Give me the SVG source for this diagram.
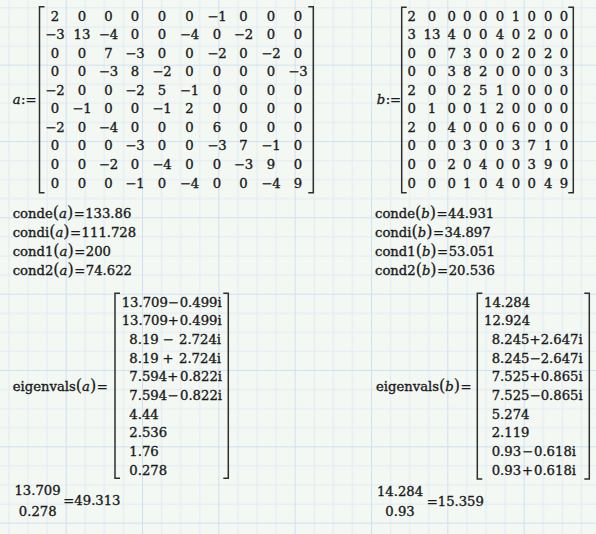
<svg xmlns="http://www.w3.org/2000/svg" width="596" height="534" viewBox="0 0 596 534">
<defs>
<pattern id="grid" patternUnits="userSpaceOnUse" x="65.67" y="64.64" width="76.33" height="76.33">
<rect x="0" y="0" width="76.33" height="76.33" fill="#f4f8f3"/>
<rect x="19.08" y="0" width="1" height="76.33" fill="#e1ecf6"/>
<rect x="38.17" y="0" width="1" height="76.33" fill="#e1ecf6"/>
<rect x="57.25" y="0" width="1" height="76.33" fill="#e1ecf6"/>
<rect x="0" y="19.08" width="76.33" height="1" fill="#e1ecf6"/>
<rect x="0" y="38.17" width="76.33" height="1" fill="#e1ecf6"/>
<rect x="0" y="57.25" width="76.33" height="1" fill="#e1ecf6"/>
<rect x="0" y="0" width="1" height="76.33" fill="#cfe1f3"/>
<rect x="0" y="0" width="76.33" height="1" fill="#cfe1f3"/>
</pattern>
</defs>
<style>
text { font-family: "DejaVu Serif", "Liberation Serif", serif; font-size: 13.2px; fill: #1a1a1a; stroke: #1a1a1a; stroke-width: 0.35px; }
.mid { text-anchor: middle; }
.end { text-anchor: end; }
.v { font-style: italic; }
.p { font-size: 16px; stroke-width: 0.2px; }
.br { fill: none; stroke: #2e2e2e; stroke-width: 1.5; }
</style>
<rect x="0" y="0" width="596" height="534" fill="url(#grid)"/>

<g id="matrix-a">
<text x="12.7" y="104"><tspan class="v">a</tspan><tspan dx="0.5">:=</tspan></text>
<path class="br" d="M44.5,6.7 H39.5 V192.7 H44.5"/>
<path class="br" d="M308.3,6.7 H313.3 V192.7 H308.3"/>
<text class="mid" y="20.5"><tspan x="55">2</tspan><tspan x="82">0</tspan><tspan x="108.5">0</tspan><tspan x="135">0</tspan><tspan x="162">0</tspan><tspan x="189.5">0</tspan><tspan x="217">−1</tspan><tspan x="243.5">0</tspan><tspan x="271">0</tspan><tspan x="298">0</tspan></text>
<text class="mid" y="39.06"><tspan x="55">−3</tspan><tspan x="82">13</tspan><tspan x="108.5">−4</tspan><tspan x="135">0</tspan><tspan x="162">0</tspan><tspan x="189.5">−4</tspan><tspan x="217">0</tspan><tspan x="243.5">−2</tspan><tspan x="271">0</tspan><tspan x="298">0</tspan></text>
<text class="mid" y="57.62"><tspan x="55">0</tspan><tspan x="82">0</tspan><tspan x="108.5">7</tspan><tspan x="135">−3</tspan><tspan x="162">0</tspan><tspan x="189.5">0</tspan><tspan x="217">−2</tspan><tspan x="243.5">0</tspan><tspan x="271">−2</tspan><tspan x="298">0</tspan></text>
<text class="mid" y="76.18"><tspan x="55">0</tspan><tspan x="82">0</tspan><tspan x="108.5">−3</tspan><tspan x="135">8</tspan><tspan x="162">−2</tspan><tspan x="189.5">0</tspan><tspan x="217">0</tspan><tspan x="243.5">0</tspan><tspan x="271">0</tspan><tspan x="298">−3</tspan></text>
<text class="mid" y="94.74"><tspan x="55">−2</tspan><tspan x="82">0</tspan><tspan x="108.5">0</tspan><tspan x="135">−2</tspan><tspan x="162">5</tspan><tspan x="189.5">−1</tspan><tspan x="217">0</tspan><tspan x="243.5">0</tspan><tspan x="271">0</tspan><tspan x="298">0</tspan></text>
<text class="mid" y="113.3"><tspan x="55">0</tspan><tspan x="82">−1</tspan><tspan x="108.5">0</tspan><tspan x="135">0</tspan><tspan x="162">−1</tspan><tspan x="189.5">2</tspan><tspan x="217">0</tspan><tspan x="243.5">0</tspan><tspan x="271">0</tspan><tspan x="298">0</tspan></text>
<text class="mid" y="131.86"><tspan x="55">−2</tspan><tspan x="82">0</tspan><tspan x="108.5">−4</tspan><tspan x="135">0</tspan><tspan x="162">0</tspan><tspan x="189.5">0</tspan><tspan x="217">6</tspan><tspan x="243.5">0</tspan><tspan x="271">0</tspan><tspan x="298">0</tspan></text>
<text class="mid" y="150.42"><tspan x="55">0</tspan><tspan x="82">0</tspan><tspan x="108.5">0</tspan><tspan x="135">−3</tspan><tspan x="162">0</tspan><tspan x="189.5">0</tspan><tspan x="217">−3</tspan><tspan x="243.5">7</tspan><tspan x="271">−1</tspan><tspan x="298">0</tspan></text>
<text class="mid" y="168.98"><tspan x="55">0</tspan><tspan x="82">0</tspan><tspan x="108.5">−2</tspan><tspan x="135">0</tspan><tspan x="162">−4</tspan><tspan x="189.5">0</tspan><tspan x="217">0</tspan><tspan x="243.5">−3</tspan><tspan x="271">9</tspan><tspan x="298">0</tspan></text>
<text class="mid" y="187.54"><tspan x="55">0</tspan><tspan x="82">0</tspan><tspan x="108.5">0</tspan><tspan x="135">−1</tspan><tspan x="162">0</tspan><tspan x="189.5">−4</tspan><tspan x="217">0</tspan><tspan x="243.5">0</tspan><tspan x="271">−4</tspan><tspan x="298">9</tspan></text>
</g>

<g id="matrix-b">
<text x="376.7" y="104"><tspan class="v">b</tspan><tspan dx="0.5">:=</tspan></text>
<path class="br" d="M406.7,7.3 H401.7 V192.7 H406.7"/>
<path class="br" d="M568.3,7.3 H573.3 V192.7 H568.3"/>
<text class="mid" y="20.5"><tspan x="411.7">2</tspan><tspan x="432">0</tspan><tspan x="451.7">0</tspan><tspan x="467.3">0</tspan><tspan x="483.3">0</tspan><tspan x="500">0</tspan><tspan x="516">1</tspan><tspan x="531.7">0</tspan><tspan x="548.3">0</tspan><tspan x="564">0</tspan></text>
<text class="mid" y="39.06"><tspan x="411.7">3</tspan><tspan x="432">13</tspan><tspan x="451.7">4</tspan><tspan x="467.3">0</tspan><tspan x="483.3">0</tspan><tspan x="500">4</tspan><tspan x="516">0</tspan><tspan x="531.7">2</tspan><tspan x="548.3">0</tspan><tspan x="564">0</tspan></text>
<text class="mid" y="57.62"><tspan x="411.7">0</tspan><tspan x="432">0</tspan><tspan x="451.7">7</tspan><tspan x="467.3">3</tspan><tspan x="483.3">0</tspan><tspan x="500">0</tspan><tspan x="516">2</tspan><tspan x="531.7">0</tspan><tspan x="548.3">2</tspan><tspan x="564">0</tspan></text>
<text class="mid" y="76.18"><tspan x="411.7">0</tspan><tspan x="432">0</tspan><tspan x="451.7">3</tspan><tspan x="467.3">8</tspan><tspan x="483.3">2</tspan><tspan x="500">0</tspan><tspan x="516">0</tspan><tspan x="531.7">0</tspan><tspan x="548.3">0</tspan><tspan x="564">3</tspan></text>
<text class="mid" y="94.74"><tspan x="411.7">2</tspan><tspan x="432">0</tspan><tspan x="451.7">0</tspan><tspan x="467.3">2</tspan><tspan x="483.3">5</tspan><tspan x="500">1</tspan><tspan x="516">0</tspan><tspan x="531.7">0</tspan><tspan x="548.3">0</tspan><tspan x="564">0</tspan></text>
<text class="mid" y="113.3"><tspan x="411.7">0</tspan><tspan x="432">1</tspan><tspan x="451.7">0</tspan><tspan x="467.3">0</tspan><tspan x="483.3">1</tspan><tspan x="500">2</tspan><tspan x="516">0</tspan><tspan x="531.7">0</tspan><tspan x="548.3">0</tspan><tspan x="564">0</tspan></text>
<text class="mid" y="131.86"><tspan x="411.7">2</tspan><tspan x="432">0</tspan><tspan x="451.7">4</tspan><tspan x="467.3">0</tspan><tspan x="483.3">0</tspan><tspan x="500">0</tspan><tspan x="516">6</tspan><tspan x="531.7">0</tspan><tspan x="548.3">0</tspan><tspan x="564">0</tspan></text>
<text class="mid" y="150.42"><tspan x="411.7">0</tspan><tspan x="432">0</tspan><tspan x="451.7">0</tspan><tspan x="467.3">3</tspan><tspan x="483.3">0</tspan><tspan x="500">0</tspan><tspan x="516">3</tspan><tspan x="531.7">7</tspan><tspan x="548.3">1</tspan><tspan x="564">0</tspan></text>
<text class="mid" y="168.98"><tspan x="411.7">0</tspan><tspan x="432">0</tspan><tspan x="451.7">2</tspan><tspan x="467.3">0</tspan><tspan x="483.3">4</tspan><tspan x="500">0</tspan><tspan x="516">0</tspan><tspan x="531.7">3</tspan><tspan x="548.3">9</tspan><tspan x="564">0</tspan></text>
<text class="mid" y="187.54"><tspan x="411.7">0</tspan><tspan x="432">0</tspan><tspan x="451.7">0</tspan><tspan x="467.3">1</tspan><tspan x="483.3">0</tspan><tspan x="500">4</tspan><tspan x="516">0</tspan><tspan x="531.7">0</tspan><tspan x="548.3">4</tspan><tspan x="564">9</tspan></text>
</g>

<g id="cond-a">
<text x="12.7" y="217.7">conde<tspan class="p">(</tspan><tspan class="v">a</tspan><tspan class="p">)</tspan><tspan dx="0.5">=</tspan><tspan dx="0.5">133.86</tspan></text>
<text x="12.7" y="236.7">condi<tspan class="p">(</tspan><tspan class="v">a</tspan><tspan class="p">)</tspan><tspan dx="0.5">=</tspan><tspan dx="0.5">111.728</tspan></text>
<text x="12.7" y="255.7">cond1<tspan class="p">(</tspan><tspan class="v">a</tspan><tspan class="p">)</tspan><tspan dx="0.5">=</tspan><tspan dx="0.5">200</tspan></text>
<text x="12.7" y="274.7">cond2<tspan class="p">(</tspan><tspan class="v">a</tspan><tspan class="p">)</tspan><tspan dx="0.5">=</tspan><tspan dx="0.5">74.622</tspan></text>
</g>

<g id="cond-b">
<text x="375" y="217.7">conde<tspan class="p">(</tspan><tspan class="v">b</tspan><tspan class="p">)</tspan><tspan dx="0.5">=</tspan><tspan dx="0.5">44.931</tspan></text>
<text x="375" y="236.7">condi<tspan class="p">(</tspan><tspan class="v">b</tspan><tspan class="p">)</tspan><tspan dx="0.5">=</tspan><tspan dx="0.5">34.897</tspan></text>
<text x="375" y="255.7">cond1<tspan class="p">(</tspan><tspan class="v">b</tspan><tspan class="p">)</tspan><tspan dx="0.5">=</tspan><tspan dx="0.5">53.051</tspan></text>
<text x="375" y="274.7">cond2<tspan class="p">(</tspan><tspan class="v">b</tspan><tspan class="p">)</tspan><tspan dx="0.5">=</tspan><tspan dx="0.5">20.536</tspan></text>
</g>

<g id="eigen-a">
<text x="12.7" y="391">eigenvals<tspan class="p">(</tspan><tspan class="v">a</tspan><tspan class="p">)</tspan><tspan dx="0.5">=</tspan></text>
<path class="br" d="M120,293.3 H115 V478.3 H120"/>
<path class="br" d="M223.3,293.3 H228.3 V478.3 H223.3"/>
<text x="121.7" y="306.5">13.709</text><text x="173.3" y="306.5" class="mid">−</text><text x="221.7" y="306.5" class="end">0.499i</text>
<text x="121.7" y="325.2">13.709</text><text x="173.3" y="325.2" class="mid">+</text><text x="221.7" y="325.2" class="end">0.499i</text>
<text x="129.3" y="343.9">8.19</text><text x="168" y="343.9" class="mid">−</text><text x="221" y="343.9" class="end">2.724i</text>
<text x="129.3" y="362.6">8.19</text><text x="168" y="362.6" class="mid">+</text><text x="221" y="362.6" class="end">2.724i</text>
<text x="129.3" y="381.3">7.594</text><text x="172.7" y="381.3" class="mid">+</text><text x="222" y="381.3" class="end">0.822i</text>
<text x="129.3" y="400">7.594</text><text x="172.7" y="400" class="mid">−</text><text x="222" y="400" class="end">0.822i</text>
<text x="129.3" y="418.7">4.44</text>
<text x="129.3" y="437.4">2.536</text>
<text x="129.3" y="456.1">1.76</text>
<text x="129.3" y="474.8">0.278</text>
</g>

<g id="eigen-b">
<text x="376" y="391">eigenvals<tspan class="p">(</tspan><tspan class="v">b</tspan><tspan class="p">)</tspan><tspan dx="0.5">=</tspan></text>
<path class="br" d="M482.3,293.3 H477.3 V479 H482.3"/>
<path class="br" d="M584.3,293.3 H589.3 V479 H584.3"/>
<text x="484" y="306.5">14.284</text>
<text x="484" y="325.2">12.924</text>
<text x="491.7" y="343.9">8.245</text><text x="535" y="343.9" class="mid">+</text><text x="582.7" y="343.9" class="end">2.647i</text>
<text x="491.7" y="362.6">8.245</text><text x="535" y="362.6" class="mid">−</text><text x="582.7" y="362.6" class="end">2.647i</text>
<text x="491.7" y="381.3">7.525</text><text x="535" y="381.3" class="mid">+</text><text x="582.7" y="381.3" class="end">0.865i</text>
<text x="491.7" y="400">7.525</text><text x="535" y="400" class="mid">−</text><text x="582.7" y="400" class="end">0.865i</text>
<text x="491.7" y="418.7">5.274</text>
<text x="491.7" y="437.4">2.119</text>
<text x="491.7" y="456.1">0.93</text><text x="527.5" y="456.1" class="mid">−</text><text x="576" y="456.1" class="end">0.618i</text>
<text x="491.7" y="474.8">0.93</text><text x="527.5" y="474.8" class="mid">+</text><text x="576" y="474.8" class="end">0.618i</text>
</g>

<g id="ratio-a">
<text x="37.5" y="495" class="mid">13.709</text>
<text x="37.7" y="515.5" class="mid">0.278</text>
<text x="63.3" y="505">=49.313</text>
</g>

<g id="ratio-b">
<text x="400" y="495.5" class="mid">14.284</text>
<text x="400" y="515.5" class="mid">0.93</text>
<text x="426.7" y="505.5">=15.359</text>
</g>
</svg>
